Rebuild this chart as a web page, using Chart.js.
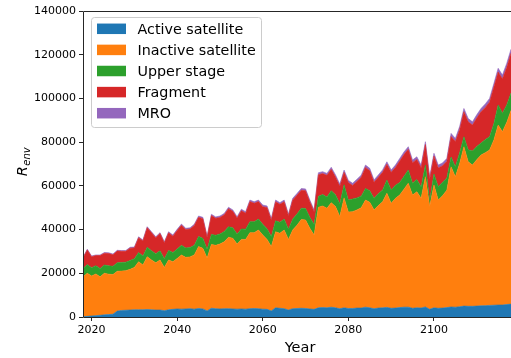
<!DOCTYPE html>
<html>
<head>
<meta charset="utf-8">
<script src="https://cdn.jsdelivr.net/npm/chart.js@4"></script>
<style>
  html, body { margin: 0; padding: 0; background: #fff; }
  #chart { display: block; }
</style>
</head>
<body>
<canvas id="chart" width="511" height="358"></canvas>
<script>
// ---------------- DATA ----------------
const firstYear = 2018;
const lastYear = 2118;
const years = Array.from({ length: lastYear - firstYear + 1 }, (_, i) => firstYear + i);
const xTicks = [2020, 2040, 2060, 2080, 2100];
const yTicks = [0, 20000, 40000, 60000, 80000, 100000, 120000, 140000];

const labels = ['Active satellite', 'Inactive satellite', 'Upper stage', 'Fragment', 'MRO'];
const colors = ['#1f77b4', '#ff7f0e', '#2ca02c', '#d62728', '#9467bd'];

const active = [
  100, 300, 500, 600, 800, 1000, 1100, 1300, 2700, 3000,
  3100, 3200, 3300, 3300, 3300, 3400, 3300, 3200, 3200, 2900,
  3300, 3500, 3700, 3600, 3700, 3800, 3600, 3900, 3700, 2800,
  4000, 3800, 3700, 3800, 3800, 3700, 3600, 3700, 3600, 3800,
  3900, 3800, 3600, 3500, 2800, 4200, 4000, 3800, 3200, 3800,
  3900, 4000, 3900, 3700, 3500, 4200, 4300, 4200, 4500, 4200,
  3800, 4200, 3900, 3900, 4100, 4100, 4500, 4200, 3800, 4100,
  4200, 4400, 4000, 4100, 4300, 4500, 4500, 4000, 4200, 4100,
  4600, 3500, 4200, 4000, 4100, 4300, 4600, 4500, 4700, 5000,
  4900, 4900, 5000, 5100, 5200, 5300, 5400, 5500, 5500, 5700,
  5900
];
const inactive = [
  18300, 19700, 18300, 19100, 17600, 19000, 18500, 18100, 18200, 18000,
  18100, 18600, 19400, 22000, 20500, 24200, 22800, 21600, 22900, 19800,
  22800, 21800, 23100, 24800, 23600, 23700, 24800, 28300, 27700, 24200,
  29200, 29000, 29700, 30600, 32700, 32300, 29800, 31800, 31900, 34800,
  34700, 36000, 33900, 32000, 29400, 34800, 34300, 36000, 32300, 36000,
  38100, 40600, 40500, 36900, 34000, 46000, 46500, 45500, 47800, 46300,
  42200, 50300, 44100, 44300, 44900, 45900, 49000, 48300, 45200, 46900,
  48500, 52200, 48000, 50200, 51500, 54000, 56700, 51800, 53100, 50200,
  59600, 47000, 56200, 49500, 51400, 53700, 64100, 59700, 65500, 72900,
  66100, 64600, 67000, 69000, 70000, 71100, 75600, 82300, 79300, 83300,
  88600
];
const upperStage = [
  3800, 4000, 3700, 3800, 3800, 3800, 3800, 3800, 3900, 3900,
  3900, 4000, 4000, 4200, 4100, 4300, 4200, 4100, 4200, 4000,
  4300, 4200, 4300, 4400, 4300, 4300, 4400, 4600, 4600, 4000,
  4600, 4600, 4600, 4700, 4800, 4800, 4600, 4800, 4700, 5000,
  5000, 5000, 4900, 4900, 4600, 5000, 5000, 5000, 4700, 5000,
  5100, 5200, 5200, 5000, 4800, 5000, 5200, 5200, 5500, 5400,
  5800, 6000, 5500, 5800, 5500, 5300, 5300, 5300, 5300, 5400,
  5400, 6100, 6100, 6000, 5700, 5900, 6100, 5400, 5600, 5300,
  5300, 3000, 5000, 6100, 6100, 5600, 4500, 4500, 5000, 4600,
  5500, 6500, 6000, 5500, 6000, 6100, 7500, 9200, 8400, 8000,
  8000
];
const fragment = [
  4800, 6700, 5100, 4600, 5900, 5350, 5650, 5250, 5350, 5150,
  4950, 5700, 4900, 6800, 6900, 8950, 8250, 7350, 7850, 7250,
  8100, 7500, 8500, 9150, 8450, 8450, 9050, 8800, 9000, 5500,
  8600, 7800, 7550, 7650, 8250, 7550, 7250, 8300, 7300, 9200,
  8400, 8000, 8050, 9650, 7600, 8750, 8250, 7950, 6150, 8700,
  8600, 8200, 8200, 7100, 5900, 9900, 9600, 9900, 9750, 8150,
  8050, 5700, 8000, 6200, 7500, 8600, 9650, 9150, 7350, 7550,
  8100, 7200, 8100, 8100, 9850, 9950, 9400, 9400, 9200, 8700,
  9400, 9500, 8200, 8600, 7600, 7600, 9400, 11600, 10500, 11400,
  12800, 11800, 13000, 14300, 14700, 15900, 16700, 15100, 15800, 17200,
  18200
];
const mro = [
  300, 300, 300, 300, 300, 350, 350, 350, 350, 350,
  350, 400, 400, 400, 400, 450, 450, 450, 450, 450,
  500, 500, 500, 550, 550, 550, 550, 600, 600, 500,
  600, 600, 650, 650, 650, 650, 650, 700, 700, 700,
  700, 700, 750, 750, 700, 750, 750, 750, 750, 800,
  800, 800, 800, 800, 800, 900, 900, 900, 950, 950,
  950, 1000, 1000, 1000, 1000, 1000, 1050, 1050, 1050, 1050,
  1100, 1100, 1100, 1100, 1150, 1150, 1200, 1200, 1200, 1200,
  1300, 1200, 1300, 1300, 1300, 1300, 1400, 1400, 1400, 1500,
  1500, 1500, 1500, 1500, 1600, 1600, 1600, 1700, 1700, 1800,
  1800
];

const series = [active, inactive, upperStage, fragment, mro];

// ---------------- PLUGIN: spines, axis titles, legend ----------------
const frameAndLegend = {
  id: 'frameAndLegend',
  afterDraw(chart) {
    const ctx = chart.ctx;
    const a = chart.chartArea;
    ctx.save();

    // spines
    ctx.strokeStyle = '#262626';
    ctx.lineWidth = 1;
    ctx.beginPath();
    ctx.moveTo(a.left + 0.5, a.top + 0.5);
    ctx.lineTo(a.left + 0.5, a.bottom + 0.5);
    ctx.lineTo(a.right, a.bottom + 0.5);
    ctx.moveTo(a.left + 0.5, a.top + 0.5);
    ctx.lineTo(a.right, a.top + 0.5);
    ctx.stroke();

    // x title
    ctx.fillStyle = '#000';
    ctx.font = '14.5px "DejaVu Sans"';
    ctx.textAlign = 'center';
    ctx.textBaseline = 'alphabetic';
    ctx.fillText('Year', 300, 352);

    // y title: R_env
    ctx.save();
    ctx.translate(27, 162);
    ctx.rotate(-Math.PI / 2);
    ctx.textAlign = 'left';
    ctx.font = 'italic 14.5px "DejaVu Sans"';
    const wR = ctx.measureText('R').width;
    ctx.font = 'italic 10px "DejaVu Sans"';
    const wE = ctx.measureText('env').width;
    const x0 = -(wR + wE) / 2;
    ctx.font = 'italic 14.5px "DejaVu Sans"';
    ctx.fillText('R', x0, 0);
    ctx.font = 'italic 10px "DejaVu Sans"';
    ctx.fillText('env', x0 + wR + 0.5, 3);
    ctx.restore();

    // legend
    const bx = 91.5, by = 17.5, bw = 170, bh = 110, r = 3;
    ctx.beginPath();
    ctx.moveTo(bx + r, by);
    ctx.arcTo(bx + bw, by, bx + bw, by + bh, r);
    ctx.arcTo(bx + bw, by + bh, bx, by + bh, r);
    ctx.arcTo(bx, by + bh, bx, by, r);
    ctx.arcTo(bx, by, bx + bw, by, r);
    ctx.closePath();
    ctx.fillStyle = 'rgba(255,255,255,0.8)';
    ctx.fill();
    ctx.strokeStyle = '#cccccc';
    ctx.stroke();

    ctx.font = '14.3px "DejaVu Sans"';
    ctx.textAlign = 'left';
    labels.forEach((lab, i) => {
      const cy = 28.8 + i * 21.1;
      ctx.fillStyle = colors[i];
      ctx.fillRect(97, cy - 5.25, 29, 10.5);
      ctx.fillStyle = '#000';
      ctx.fillText(lab, 137.5, cy + 5.2);
    });

    ctx.restore();
  }
};

// ---------------- CHART ----------------
const datasets = series.map((vals, i) => ({
  label: labels[i],
  data: vals.map((v, j) => ({ x: years[j], y: v })),
  backgroundColor: colors[i],
  borderColor: colors[i],
  borderWidth: 0.6,
  pointRadius: 0,
  tension: 0,
  fill: i === 0 ? 'origin' : '-1'
}));

const tickFont = { family: 'DejaVu Sans', size: 11 };

new Chart(document.getElementById('chart'), {
  type: 'line',
  data: { datasets: datasets },
  options: {
    responsive: false,
    animation: false,
    devicePixelRatio: 1,
    layout: { padding: { top: 11, left: 0, right: 0, bottom: 0 } },
    plugins: { legend: { display: false }, tooltip: { enabled: false } },
    scales: {
      x: {
        type: 'linear',
        min: firstYear,
        max: lastYear,
        afterBuildTicks: s => { s.ticks = xTicks.map(v => ({ value: v })); },
        afterFit: s => { s.height = 41; },
        grid: { display: true, drawOnChartArea: false, drawTicks: true, tickLength: 4, color: '#262626' },
        border: { display: false },
        ticks: { font: tickFont, color: '#000', padding: 3, maxRotation: 0, autoSkip: false, callback: v => String(v) }
      },
      y: {
        stacked: true,
        min: 0,
        max: 140000,
        afterBuildTicks: s => { s.ticks = yTicks.map(v => ({ value: v })); },
        afterFit: s => { s.width = 83; },
        grid: { display: true, drawOnChartArea: false, drawTicks: true, tickLength: 4, color: '#262626' },
        border: { display: false },
        ticks: { font: tickFont, color: '#000', padding: 3, autoSkip: false, callback: v => String(v) }
      }
    }
  },
  plugins: [frameAndLegend]
});
</script>
</body>
</html>
